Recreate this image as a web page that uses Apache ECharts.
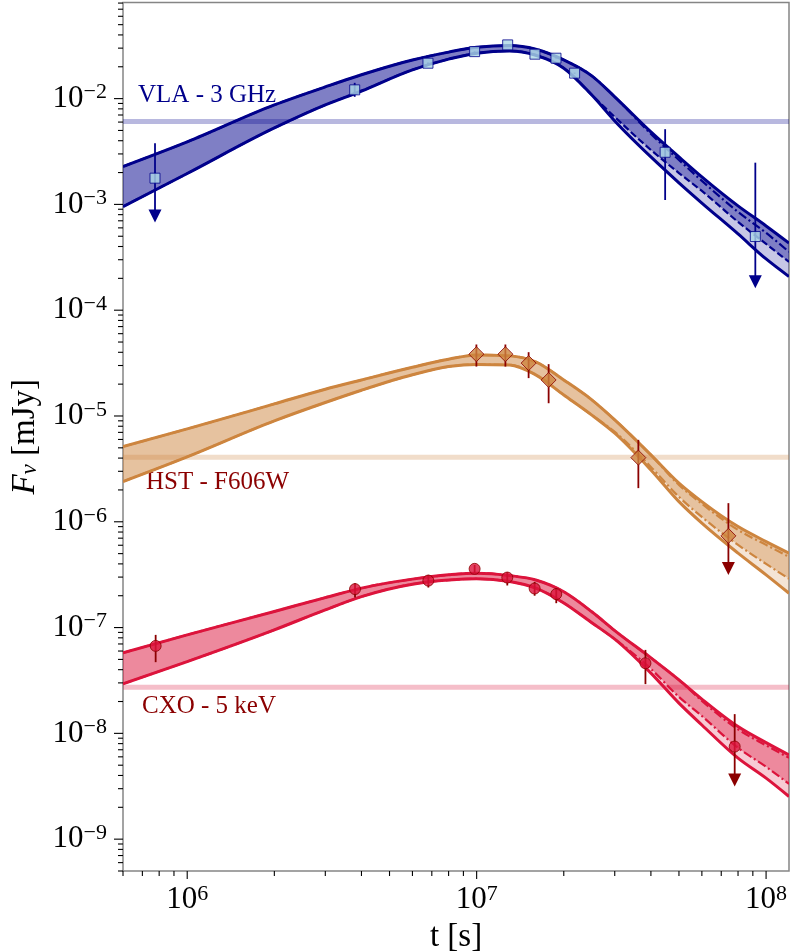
<!DOCTYPE html>
<html>
<head>
<meta charset="utf-8">
<title>Afterglow light curves</title>
<script src="https://cdn.jsdelivr.net/npm/echarts@6.0.0/dist/echarts.min.js"></script>
<style>
  html, body { margin: 0; padding: 0; background: #fff; }
  #chart { width: 790px; height: 952px; }
</style>
</head>
<body>
<div id="chart"></div>
<script>
// model time grid [s]
const tGrid = [6e5, 1e6, 2e6, 3e6, 4e6, 6e6, 8e6, 1e7, 1.3e7, 1.6e7, 2e7, 2.5e7, 3e7, 4e7, 5e7, 6e7, 8e7, 1e8, 1.2e8];

// VLA 3 GHz model band (solid bounds) and second model (dash-dot / dashed)
const vlaUp  = [2.28e-3, 3.90e-3, 8.72e-3, 1.29e-2, 1.68e-2, 2.32e-2, 2.75e-2, 3.06e-2, 3.17e-2, 2.93e-2, 2.32e-2, 1.64e-2, 1.04e-2, 4.85e-3, 2.81e-3, 1.82e-3, 9.68e-4, 6.26e-4, 4.31e-4];
const vlaLo  = [9.53e-4, 1.96e-3, 5.28e-3, 8.72e-3, 1.18e-2, 1.87e-2, 2.36e-2, 2.69e-2, 2.82e-2, 2.57e-2, 1.94e-2, 1.08e-2, 6.15e-3, 2.81e-3, 1.60e-3, 1.03e-3, 5.26e-4, 3.05e-4, 2.08e-4];
const vlaUpB = [2.28e-3, 3.90e-3, 8.72e-3, 1.29e-2, 1.68e-2, 2.32e-2, 2.75e-2, 3.06e-2, 3.17e-2, 2.93e-2, 2.32e-2, 1.64e-2, 1.04e-2, 4.64e-3, 2.63e-3, 1.67e-3, 8.49e-4, 5.38e-4, 3.56e-4];
const vlaLoB = [9.53e-4, 1.96e-3, 5.28e-3, 8.72e-3, 1.18e-2, 1.87e-2, 2.36e-2, 2.69e-2, 2.82e-2, 2.57e-2, 1.94e-2, 1.08e-2, 6.71e-3, 3.27e-3, 1.98e-3, 1.34e-3, 6.83e-4, 4.23e-4, 2.86e-4];

// HST F606W model band
const hstUp  = [5.14e-6, 7.55e-6, 1.30e-5, 1.79e-5, 2.19e-5, 2.89e-5, 3.44e-5, 3.78e-5, 3.70e-5, 3.25e-5, 2.19e-5, 1.42e-5, 9.19e-6, 4.29e-6, 2.32e-6, 1.55e-6, 9.01e-7, 6.50e-7, 5.05e-7];
const hstLo  = [2.40e-6, 4.11e-6, 8.99e-6, 1.34e-5, 1.75e-5, 2.45e-5, 2.93e-5, 3.07e-5, 3.04e-5, 2.45e-5, 1.58e-5, 1.02e-5, 6.88e-6, 3.09e-6, 1.55e-6, 9.70e-7, 5.05e-7, 3.15e-7, 2.11e-7];
const hstUpB = [5.14e-6, 7.55e-6, 1.30e-5, 1.79e-5, 2.19e-5, 2.89e-5, 3.44e-5, 3.78e-5, 3.70e-5, 3.25e-5, 2.19e-5, 1.42e-5, 9.19e-6, 4.29e-6, 2.23e-6, 1.48e-6, 8.38e-7, 6.05e-7, 4.66e-7];
const hstLoB = [2.40e-6, 4.11e-6, 8.99e-6, 1.34e-5, 1.75e-5, 2.45e-5, 2.93e-5, 3.07e-5, 3.04e-5, 2.45e-5, 1.58e-5, 1.02e-5, 7.07e-6, 3.30e-6, 1.72e-6, 1.11e-6, 6.05e-7, 4.00e-7, 2.89e-7];

// CXO 5 keV model band
const cxoUp  = [5.77e-8, 8.53e-8, 1.42e-7, 1.92e-7, 2.36e-7, 2.87e-7, 3.15e-7, 3.27e-7, 3.10e-7, 2.82e-7, 2.18e-7, 1.41e-7, 9.37e-8, 5.17e-8, 3.20e-8, 2.11e-8, 1.16e-8, 8.18e-9, 6.26e-9];
const cxoLo  = [2.94e-8, 4.77e-8, 9.51e-8, 1.47e-7, 1.96e-7, 2.57e-7, 2.81e-7, 2.89e-7, 2.72e-7, 2.36e-7, 1.71e-7, 1.11e-7, 7.77e-8, 3.71e-8, 1.93e-8, 1.20e-8, 5.83e-9, 3.77e-9, 2.53e-9];
const cxoUpB = [5.77e-8, 8.53e-8, 1.42e-7, 1.92e-7, 2.36e-7, 2.87e-7, 3.15e-7, 3.27e-7, 3.10e-7, 2.82e-7, 2.18e-7, 1.41e-7, 9.37e-8, 5.17e-8, 3.20e-8, 2.03e-8, 1.09e-8, 7.70e-9, 5.87e-9];
const cxoLoB = [2.94e-8, 4.77e-8, 9.51e-8, 1.47e-7, 1.96e-7, 2.57e-7, 2.81e-7, 2.89e-7, 2.72e-7, 2.36e-7, 1.71e-7, 1.11e-7, 7.77e-8, 4.07e-8, 2.21e-8, 1.46e-8, 7.29e-9, 4.83e-9, 3.33e-9];

// observations: time, flux, error bar low / high, upper limit flag
const vlaT  = [7.74e5, 3.79e6, 6.79e6, 9.84e6, 1.28e7, 1.59e7, 1.88e7, 2.18e7, 4.48e7, 9.18e7];
const vlaF  = [1.77e-3, 1.21e-2, 2.16e-2, 2.78e-2, 3.22e-2, 2.63e-2, 2.41e-2, 1.74e-2, 3.11e-3, 4.97e-4];
const vlaEh = [3.79e-3, 1.41e-2, 2.20e-2, 2.80e-2, 3.24e-2, 2.65e-2, 2.43e-2, 1.76e-2, 5.14e-3, 2.48e-3];
const vlaEl = [6.73e-4, 1.04e-2, 2.12e-2, 2.76e-2, 3.20e-2, 2.61e-2, 2.39e-2, 1.72e-2, 1.10e-3, 1.61e-4];
const vlaUL = [1, 0, 0, 0, 0, 0, 0, 0, 0, 1];

const hstT  = [9.98e6, 1.257e7, 1.512e7, 1.773e7, 3.62e7, 7.41e7];
const hstF  = [3.84e-5, 3.84e-5, 3.16e-5, 2.19e-5, 4.04e-6, 7.36e-7];
const hstEh = [4.74e-5, 4.74e-5, 4.01e-5, 3.09e-5, 5.95e-6, 1.50e-6];
const hstEl = [2.93e-5, 2.93e-5, 2.28e-5, 1.32e-5, 2.08e-6, 3.14e-7];
const hstUL = [0, 0, 0, 0, 0, 1];

const cxoT  = [7.78e5, 3.80e6, 6.81e6, 9.84e6, 1.276e7, 1.586e7, 1.884e7, 3.83e7, 7.79e7];
const cxoF  = [6.71e-8, 2.31e-7, 2.78e-7, 3.59e-7, 2.97e-7, 2.34e-7, 2.07e-7, 4.60e-8, 7.50e-9];
const cxoEh = [8.53e-8, 2.63e-7, 3.15e-7, 3.91e-7, 3.34e-7, 2.70e-7, 2.36e-7, 6.15e-8, 1.52e-8];
const cxoEl = [4.71e-8, 1.92e-7, 2.39e-7, 3.29e-7, 2.50e-7, 2.00e-7, 1.70e-7, 2.92e-8, 3.14e-9];
const cxoUL = [0, 0, 0, 0, 0, 0, 0, 0, 1];

// detection limits
const vlaLimit = 6.06e-3;
const hstLimit = 4.08e-6;
const cxoLimit = 2.73e-8;

// axes
const X_MIN = 6e5, X_MAX = 1.2e8;
const Y_MIN = 5e-10, Y_MAX = 0.081;
const xMajor = [1e6, 1e7, 1e8];
const yMajor = [1e-9, 1e-8, 1e-7, 1e-6, 1e-5, 1e-4, 1e-3, 1e-2];

const FONT = 'Liberation Serif';
const NAVY = '#00008b', PERU = '#cd853f', CRIMSON = '#dc143c', DARKRED = '#8b0000';

function minorTicks(lo, hi) {
  const out = [];
  for (let n = Math.floor(Math.log10(lo)); n <= Math.ceil(Math.log10(hi)); n++) {
    for (let k = 2; k <= 9; k++) {
      const v = k * Math.pow(10, n);
      if (v >= lo && v <= hi) out.push(v);
    }
  }
  return out;
}

// monotone-x cubic path through pixel points (same idea as d3 curveMonotoneX)
function sign(v) { return v < 0 ? -1 : 1; }
function tangents(P) {
  const n = P.length, m = new Array(n);
  for (let i = 1; i < n - 1; i++) {
    const h0 = P[i][0] - P[i - 1][0], h1 = P[i + 1][0] - P[i][0];
    const s0 = (P[i][1] - P[i - 1][1]) / h0, s1 = (P[i + 1][1] - P[i][1]) / h1;
    const p = (s0 * h1 + s1 * h0) / (h0 + h1);
    m[i] = (sign(s0) + sign(s1)) * Math.min(Math.abs(s0), Math.abs(s1), 0.5 * Math.abs(p)) || 0;
  }
  m[0] = (3 * (P[1][1] - P[0][1]) / (P[1][0] - P[0][0]) - m[1]) / 2;
  m[n - 1] = (3 * (P[n - 1][1] - P[n - 2][1]) / (P[n - 1][0] - P[n - 2][0]) - m[n - 2]) / 2;
  return m;
}
function curvePath(P, first) {
  const m = tangents(P);
  let d = (first ? 'M' : 'L') + P[0][0] + ',' + P[0][1];
  for (let i = 0; i < P.length - 1; i++) {
    const h = (P[i + 1][0] - P[i][0]) / 3;
    d += 'C' + (P[i][0] + h) + ',' + (P[i][1] + m[i] * h) + ',' +
      (P[i + 1][0] - h) + ',' + (P[i + 1][1] - m[i + 1] * h) + ',' +
      P[i + 1][0] + ',' + P[i + 1][1];
  }
  return d;
}

function band(up, lo, color) {
  return {
    type: 'custom', silent: true, clip: true, z: 2, data: [[X_MIN, Y_MIN]],
    renderItem: function (params, api) {
      const U = tGrid.map((t, i) => api.coord([t, up[i]]));
      const L = tGrid.map((t, i) => api.coord([t, lo[i]])).reverse();
      return { type: 'path', shape: { pathData: curvePath(U, true) + curvePath(L, false) + 'Z' },
        style: { fill: color, stroke: null } };
    }
  };
}

function curve(vals, color, width, dash) {
  return {
    type: 'custom', silent: true, clip: true, z: 3, data: [[X_MIN, Y_MIN]],
    renderItem: function (params, api) {
      const P = tGrid.map((t, i) => api.coord([t, vals[i]]));
      return { type: 'path', shape: { pathData: curvePath(P, true) },
        style: { fill: null, stroke: color, lineWidth: width, lineDash: dash } };
    }
  };
}

function errBars(T, lo, hi, ul, color) {
  return {
    type: 'custom', silent: true, z: 5, clip: false,
    data: T.map((t, i) => [t, lo[i], hi[i], ul[i]]),
    renderItem: function (params, api) {
      const t = api.value(0);
      const top = api.coord([t, api.value(2)]);
      const bot = api.coord([t, api.value(1)]);
      const isUL = api.value(3) === 1;
      const kids = [{
        type: 'line',
        shape: { x1: top[0], y1: top[1], x2: top[0], y2: isUL ? bot[1] - 10 : bot[1] },
        style: { stroke: color, lineWidth: 1.8 }
      }];
      if (isUL) {
        kids.push({
          type: 'polygon',
          shape: { points: [[bot[0] - 6.5, bot[1] - 13], [bot[0] + 6.5, bot[1] - 13], [bot[0], bot[1]]] },
          style: { fill: color }
        });
      }
      return { type: 'group', children: kids };
    }
  };
}

function markers(T, F, symbol, size, color, edge) {
  return { type: 'scatter', data: T.map((t, i) => [t, F[i]]), symbol: symbol, symbolSize: size,
    itemStyle: { color: color, borderColor: edge, borderWidth: 1 }, silent: true, z: 6 };
}

function limitLine(v, color) {
  return { type: 'line', data: [[X_MIN, v], [X_MAX, v]], symbol: 'none', silent: true, z: 1,
    lineStyle: { color: color, width: 5 } };
}

// tick marks (major + matplotlib style minor) drawn through the axis scales
const tickData = [];
xMajor.forEach(v => tickData.push([v, 1e-5, 0]));
minorTicks(X_MIN, X_MAX).forEach(v => tickData.push([v, 1e-5, 1]));
yMajor.forEach(v => tickData.push([1e7, v, 2]));
minorTicks(Y_MIN, Y_MAX).forEach(v => tickData.push([1e7, v, 3]));

const tickSeries = {
  type: 'custom', silent: true, z: 10, clip: false, data: tickData,
  renderItem: function (params, api) {
    const cs = params.coordSys;
    const kind = api.value(2);
    const p = api.coord([api.value(0), api.value(1)]);
    let shape;
    if (kind < 2) {
      const yb = cs.y + cs.height;
      shape = { x1: p[0], y1: yb, x2: p[0], y2: yb + (kind === 0 ? 8 : 5) };
    } else {
      shape = { x1: cs.x - (kind === 2 ? 9 : 5), y1: p[1], x2: cs.x, y2: p[1] };
    }
    return { type: 'line', shape: shape, style: { stroke: '#000', lineWidth: 1.1 } };
  }
};

function powLabel(v) {
  const lg = Math.log10(v);
  const e = Math.round(lg);
  if (Math.abs(lg - e) > 1e-6) return '';
  return '{b|10}{e|' + (e < 0 ? '\u2212' : '') + Math.abs(e) + '}';
}

const labelRich = {
  b: { fontFamily: FONT, fontSize: 31, color: '#000', lineHeight: 34 },
  e: { fontFamily: FONT, fontSize: 22, color: '#000', lineHeight: 20, verticalAlign: 'top' }
};

const option = {
  backgroundColor: '#fff',
  animation: false,
  grid: {
    left: 123, right: 1, top: 2.5, bottom: 81, containLabel: false, outerBoundsMode: 'none',
    show: true, borderColor: '#858585', borderWidth: 1.5, backgroundColor: 'transparent'
  },
  xAxis: {
    type: 'log', logBase: 10, min: X_MIN, max: X_MAX,
    name: 't [s]', nameLocation: 'middle', nameGap: 47,
    nameTextStyle: { fontFamily: FONT, fontSize: 33, color: '#000' },
    axisLine: { show: false }, axisTick: { show: false }, splitLine: { show: false },
    axisLabel: { formatter: powLabel, margin: 12, rich: labelRich }
  },
  yAxis: {
    type: 'log', logBase: 10, min: Y_MIN, max: Y_MAX,
    name: '{i|F}{s|\u03bd} [mJy]', nameLocation: 'middle', nameGap: 80, nameRotate: 90,
    nameTextStyle: {
      fontFamily: FONT, fontSize: 33, color: '#000',
      rich: {
        i: { fontFamily: FONT, fontSize: 33, fontStyle: 'italic', color: '#000' },
        s: { fontFamily: FONT, fontSize: 23, fontStyle: 'italic', color: '#000', verticalAlign: 'bottom' }
      }
    },
    axisLine: { show: false }, axisTick: { show: false }, splitLine: { show: false },
    axisLabel: { formatter: powLabel, margin: 16, rich: labelRich }
  },
  graphic: [
    { type: 'text', left: 138, top: 83, style: { text: 'VLA - 3 GHz', font: '25px "Liberation Serif"', fill: NAVY } },
    { type: 'text', left: 146, top: 470, style: { text: 'HST - F606W', font: '25px "Liberation Serif"', fill: DARKRED } },
    { type: 'text', left: 142, top: 694, style: { text: 'CXO - 5 keV', font: '25px "Liberation Serif"', fill: DARKRED } }
  ],
  series: [
    limitLine(vlaLimit, 'rgba(0,0,139,0.28)'),
    limitLine(hstLimit, 'rgba(205,133,63,0.28)'),
    limitLine(cxoLimit, 'rgba(220,20,60,0.28)'),

    band(vlaUp, vlaLo, 'rgba(0,0,139,0.22)'),
    band(vlaUp, vlaLoB, 'rgba(0,0,139,0.36)'),
    band(hstUp, hstLo, 'rgba(205,133,63,0.22)'),
    band(hstUp, hstLoB, 'rgba(205,133,63,0.36)'),
    band(cxoUp, cxoLo, 'rgba(220,20,60,0.22)'),
    band(cxoUp, cxoLoB, 'rgba(220,20,60,0.36)'),

    curve(vlaUp, NAVY, 3, null),
    curve(vlaLo, NAVY, 3, null),
    curve(vlaUpB, NAVY, 2.2, [9, 3, 2, 3]),
    curve(vlaLoB, NAVY, 2.2, [7, 3]),
    curve(hstUp, PERU, 3, null),
    curve(hstLo, PERU, 3, null),
    curve(hstUpB, PERU, 2.2, [9, 3, 2, 3]),
    curve(hstLoB, PERU, 2.2, [9, 3, 2, 3]),
    curve(cxoUp, CRIMSON, 3, null),
    curve(cxoLo, CRIMSON, 3, null),
    curve(cxoUpB, CRIMSON, 2.2, [9, 3, 2, 3]),
    curve(cxoLoB, CRIMSON, 2.2, [9, 3, 2, 3]),

    errBars(vlaT, vlaEl, vlaEh, vlaUL, NAVY),
    errBars(hstT, hstEl, hstEh, hstUL, DARKRED),
    errBars(cxoT, cxoEl, cxoEh, cxoUL, DARKRED),

    markers(vlaT, vlaF, 'rect', 10, '#add8e6', NAVY),
    markers(hstT, hstF, 'diamond', 15, PERU, DARKRED),
    markers(cxoT, cxoF, 'circle', 11, CRIMSON, DARKRED),

    tickSeries
  ]
};

const chart = echarts.init(document.getElementById('chart'));
chart.setOption(option);
</script>
</body>
</html>
